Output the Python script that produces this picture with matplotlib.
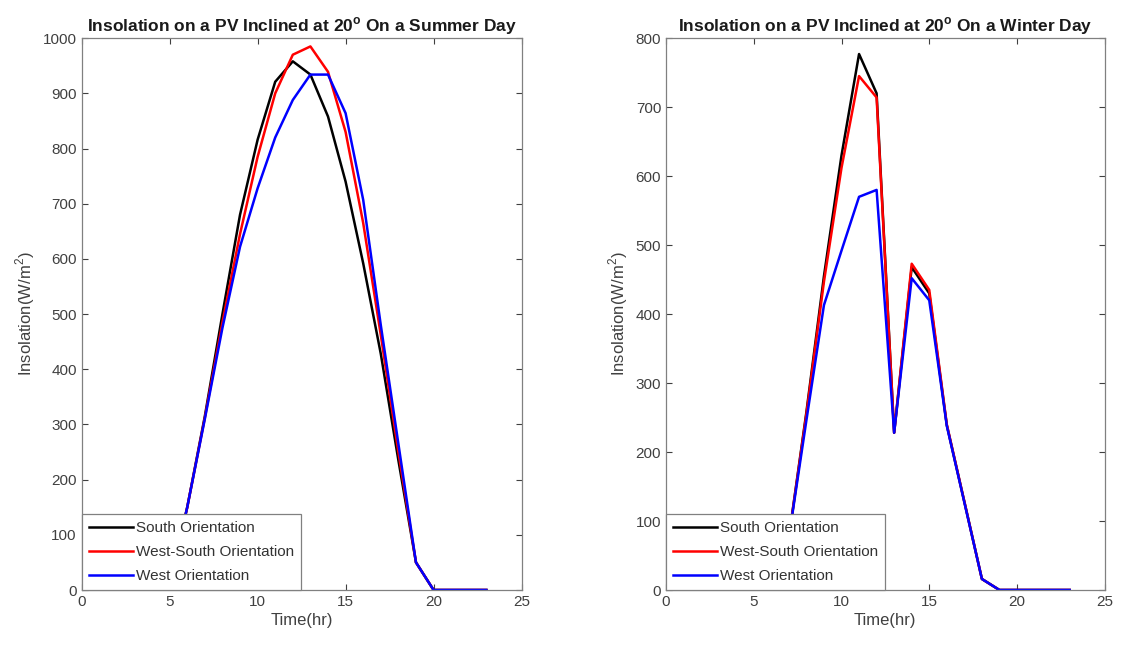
import matplotlib
matplotlib.use('Agg')
import matplotlib.pyplot as plt

plt.rcParams['font.family'] = ['Liberation Sans', 'DejaVu Sans']
plt.rcParams['mathtext.fontset'] = 'custom'
plt.rcParams['mathtext.rm'] = 'Liberation Sans'
plt.rcParams['mathtext.bf'] = 'Liberation Sans:bold'

hours = list(range(24))

# summer day
summer_south = [0, 0, 0, 0, 0, 10, 150, 315, 500, 680, 816, 921,
                958, 934, 858, 740, 592, 428, 235, 50, 0, 0, 0, 0]
summer_west_south = [0, 0, 0, 0, 0, 10, 150, 312, 485, 645, 785, 900,
                     970, 985, 939, 830, 665, 462, 250, 50, 0, 0, 0, 0]
summer_west = [0, 0, 0, 0, 0, 10, 150, 310, 475, 622, 728, 820,
               888, 934, 934, 864, 707, 480, 265, 50, 0, 0, 0, 0]

# winter day
winter_south = [0, 0, 0, 0, 0, 0, 0, 76, 258, 455, 630, 777,
                720, 228, 468, 430, 239, 128, 16, 0, 0, 0, 0, 0]
winter_west_south = [0, 0, 0, 0, 0, 0, 0, 76, 255, 447, 612, 745,
                     714, 228, 473, 435, 240, 128, 16, 0, 0, 0, 0, 0]
winter_west = [0, 0, 0, 0, 0, 0, 0, 76, 246, 413, 492, 570,
               580, 228, 452, 420, 238, 127, 16, 0, 0, 0, 0, 0]

labels = ['South Orientation', 'West-South Orientation', 'West Orientation']
colors = ['black', 'red', 'blue']

fig = plt.figure(figsize=(11.25, 6.5), dpi=100)
ax1 = fig.add_axes([0.0726, 0.0923, 0.391, 0.849])
ax2 = fig.add_axes([0.592, 0.0923, 0.390, 0.849])

panels = [
    (ax1, [summer_south, summer_west_south, summer_west], 'Summer', 1000),
    (ax2, [winter_south, winter_west_south, winter_west], 'Winter', 800),
]

for ax, series, season, ymax in panels:
    for vals, c, lab in zip(series, colors, labels):
        ax.plot(hours, vals, color=c, lw=1.8, label=lab)
    ax.set_xlim(0, 25)
    ax.set_ylim(0, ymax)
    ax.set_xticks(range(0, 26, 5))
    ax.set_yticks(range(0, ymax + 1, 100))
    ax.tick_params(direction='in', top=True, right=True, length=4,
                   colors='#404040', labelsize=11, width=0.8)
    for s in ax.spines.values():
        s.set_color('#808080')
        s.set_linewidth(0.9)
    ax.set_title(r'Insolation on a PV Inclined at 20$^{\mathbf{o}}$ On a ' + season + ' Day',
                 fontsize=12.5, fontweight='bold', color='#1a1a1a', pad=5)
    ax.set_xlabel('Time(hr)', fontsize=12, color='#404040', labelpad=3)
    ax.set_ylabel(r'Insolation(W/m$^2$)', fontsize=12, color='#404040', labelpad=4)
    leg = ax.legend(loc='lower left', borderaxespad=0, fancybox=False,
                    edgecolor='#808080', framealpha=1, fontsize=11,
                    handlelength=2.9, handletextpad=0.2, labelspacing=0.65,
                    borderpad=0.45)
    leg.get_frame().set_linewidth(0.9)
    for t in leg.get_texts():
        t.set_color('#333333')

fig.savefig('out.png', dpi=100)
